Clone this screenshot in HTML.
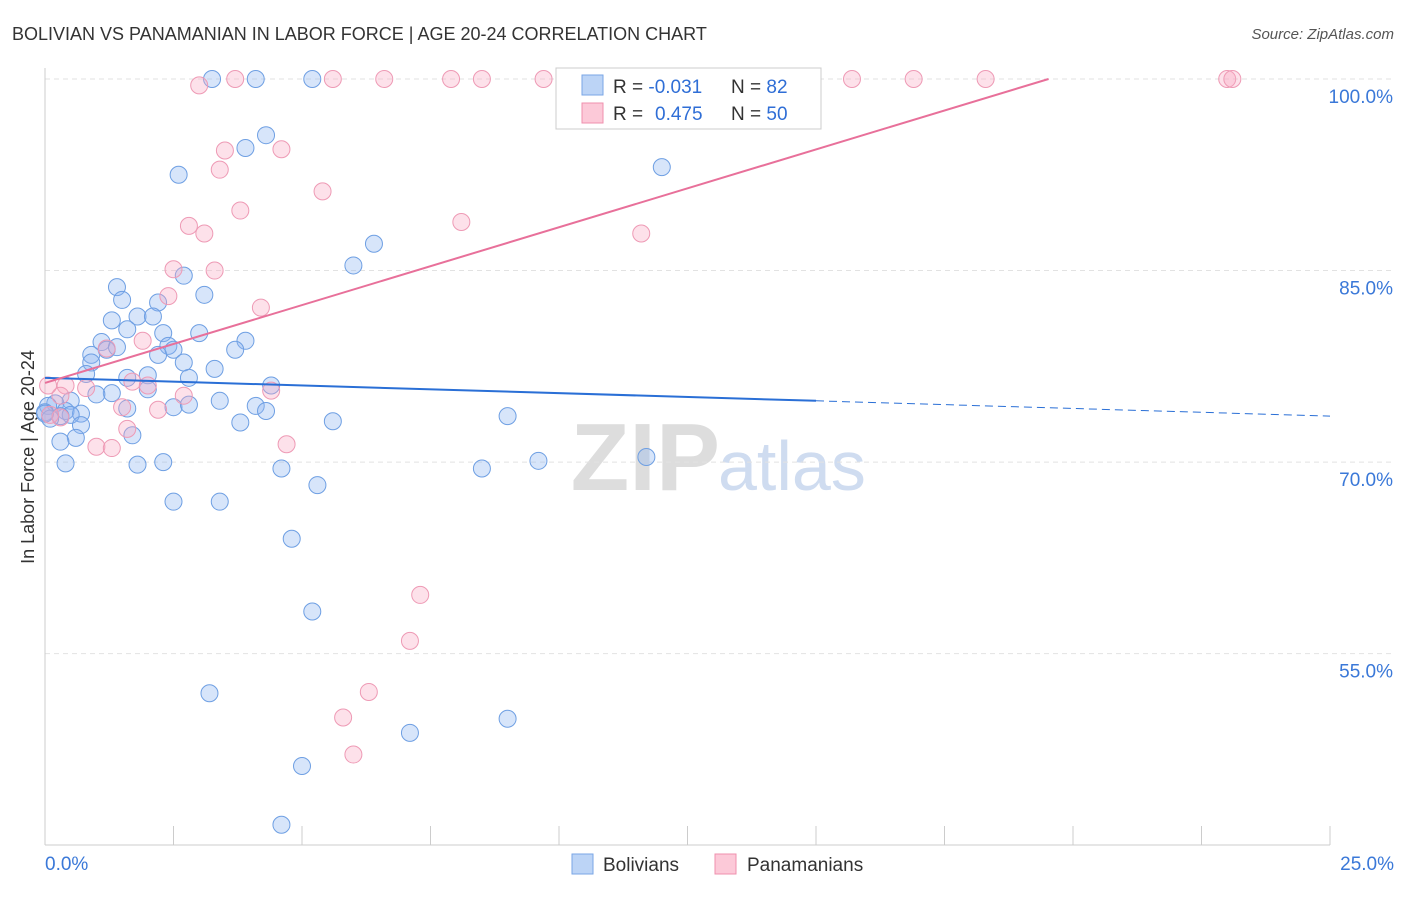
<!DOCTYPE html>
<html><head><meta charset="utf-8"><style>
body{margin:0;background:#fff;font-family:"Liberation Sans",sans-serif;}
svg text{font-family:"Liberation Sans",sans-serif;}
</style></head><body>
<svg id="chart" width="1406" height="892" xmlns="http://www.w3.org/2000/svg">
<text x="12" y="40" font-size="18" fill="#333">BOLIVIAN VS PANAMANIAN IN LABOR FORCE | AGE 20-24 CORRELATION CHART</text>
<text x="1394" y="39" font-size="15" fill="#555" font-style="italic" text-anchor="end">Source: ZipAtlas.com</text>
<text x="720" y="490" font-size="96" fill="#ddd" text-anchor="end" font-weight="bold" font-family="Liberation Serif">ZIP</text>
<text x="718" y="490" font-size="70" fill="#cfdcf0">atlas</text>
<text x="34" y="457" font-size="18" fill="#333" text-anchor="middle" transform="rotate(-90 34 457)">In Labor Force | Age 20-24</text>
<g id="grid"></g><g id="pts"></g><g id="lines"></g>
<g>
<rect x="556" y="68" width="265" height="61" fill="#fff" stroke="#ccc"/>
<rect x="582" y="75" width="21" height="20" fill="#bcd4f6" stroke="#7aa6e6"/>
<rect x="582" y="103" width="21" height="20" fill="#fcc9d8" stroke="#ef90ae"/>
<text x="613" y="93" font-size="19" fill="#333">R = <tspan fill="#2f6ed6">-0.031</tspan><tspan x="731">N = </tspan><tspan fill="#2f6ed6">82</tspan></text>
<text x="613" y="120" font-size="19" fill="#333">R = <tspan x="655" fill="#2f6ed6">0.475</tspan><tspan x="731">N = </tspan><tspan fill="#2f6ed6">50</tspan></text>
</g>
<g>
<rect x="572" y="854" width="21" height="20" fill="#bcd4f6" stroke="#7aa6e6"/>
<text x="603" y="871" font-size="19" fill="#333">Bolivians</text>
<rect x="715" y="854" width="21" height="20" fill="#fcc9d8" stroke="#ef90ae"/>
<text x="747" y="871" font-size="19" fill="#333">Panamanians</text>
</g>
</svg>
<script>
const yTicks=[100,85,70,55];
const xTickLabels=["0.0%","25.0%"];
const bolX=[3.25,4.1,5.2,11.3,4.3,3.9,2.6,12.0,6.4,6.0,2.7,1.4,3.1,1.5,2.2,1.3,1.8,2.1,1.6,2.3,3.0,1.1,3.9,2.4,2.5,3.7,1.2,1.4,0.9,2.2,0.9,2.7,3.3,0.8,2.8,1.6,2.0,2.0,4.4,1.3,1.0,0.5,0.2,0.06,0.4,0.0,0.7,1.6,2.5,2.8,3.4,4.1,4.3,0.5,0.3,0.1,0.7,3.8,5.6,9.0,0.6,0.3,1.7,0.4,1.8,2.3,4.6,8.5,9.6,11.7,5.3,2.5,3.4,4.8,5.2,3.2,9.0,7.1,5.0,4.6,0.0];
const bolY=[100,100,100,100,95.6,94.6,92.5,93.1,87.1,85.4,84.6,83.7,83.1,82.7,82.5,81.1,81.4,81.4,80.4,80.1,80.1,79.4,79.5,79.1,78.8,78.8,78.8,79.0,78.4,78.4,77.8,77.8,77.3,76.9,76.6,76.6,76.8,75.7,76.0,75.4,75.3,74.8,74.6,74.4,74.0,73.9,73.8,74.2,74.3,74.5,74.8,74.4,74.0,73.7,73.6,73.4,72.9,73.1,73.2,73.6,71.9,71.6,72.1,69.9,69.8,70.0,69.5,69.5,70.1,70.4,68.2,66.9,66.9,64.0,58.3,51.9,49.9,48.8,46.2,41.6,73.8];
const panX=[3.0,3.7,5.6,6.6,7.9,8.5,9.7,12.6,14.7,15.7,16.9,18.3,23.0,23.1,3.5,4.6,3.4,5.4,3.8,2.8,3.1,8.1,11.6,2.5,3.3,2.4,4.2,1.9,1.2,1.7,2.0,0.8,0.4,2.7,4.4,0.3,1.5,2.2,1.6,1.0,1.3,4.7,0.3,0.1,7.3,7.1,6.3,5.8,6.0,0.06];
const panY=[99.5,100,100,100,100,100,100,100,100,100,100,100,100,100,94.4,94.5,92.9,91.2,89.7,88.5,87.9,88.8,87.9,85.1,85.0,83.0,82.1,79.5,78.9,76.3,76.0,75.8,76.0,75.2,75.6,75.2,74.3,74.1,72.6,71.2,71.1,71.4,73.5,73.7,59.6,56.0,52.0,50.0,47.1,76.0];
const X=v=>45+v/25*1285, Y=v=>79+(100-v)*12.77;
const NS="http://www.w3.org/2000/svg";
function mk(t,a,p){const e=document.createElementNS(NS,t);for(const k in a)e.setAttribute(k,a[k]);document.getElementById(p).appendChild(e);return e;}
yTicks.forEach(v=>{
 const l=mk('line',{x1:45,x2:1395,y1:Y(v),y2:Y(v),stroke:'#e2e2e2','stroke-dasharray':'5,4'},'grid');
 
 
 const t=mk('text',{x:1393,y:Y(v)+24,'font-size':19,fill:'#3a78d8','text-anchor':'end'},'grid');t.textContent=v.toFixed(1)+'%';
 
 
});
const ax=mk('line',{x1:45,x2:45,y1:68,y2:845,stroke:'#ccc'},'grid');


const bx=mk('line',{x1:45,x2:1330,y1:845,y2:845,stroke:'#ccc'},'grid');


for(let i=0;i<=10;i++){const x=X(i*2.5);const t=mk('line',{x1:x,x2:x,y1:826,y2:845,stroke:'#ccc'},'grid');
 
 }
[[0,'start',45],[25,'end',1394]].forEach((d,i)=>{const t=mk('text',{x:d[2],y:870,'font-size':19,fill:'#3a78d8','text-anchor':d[1]},'grid');t.textContent=xTickLabels[i];
 
 });
bolX.forEach((x,i)=>{const c=mk('circle',{cx:X(x),cy:Y(bolY[i]),r:8.5,fill:'rgba(140,180,240,0.35)',stroke:'#6e9fe3','stroke-width':1},'pts');
 
 });
panX.forEach((x,i)=>{const c=mk('circle',{cx:X(x),cy:Y(panY[i]),r:8.5,fill:'rgba(248,170,195,0.35)',stroke:'#ee9ab5','stroke-width':1},'pts');
 
 });
const b0=76.6,b1=-0.12;
const bl=mk('line',{x1:X(0),y1:Y(b0),x2:X(15),y2:Y(b0+b1*15),stroke:'#2a6fd6','stroke-width':2},'lines');


const bd=mk('line',{x1:X(15),y1:Y(b0+b1*15),x2:X(25),y2:Y(b0+b1*25),stroke:'#2a6fd6','stroke-width':1,'stroke-dasharray':'8,5'},'lines');


const p0=76.2,p1=1.219,pe=(100-p0)/p1;
const pl=mk('line',{x1:X(0),y1:Y(p0),x2:X(pe),y2:Y(100),stroke:'#e8709a','stroke-width':2},'lines');


</script>
</body></html>
